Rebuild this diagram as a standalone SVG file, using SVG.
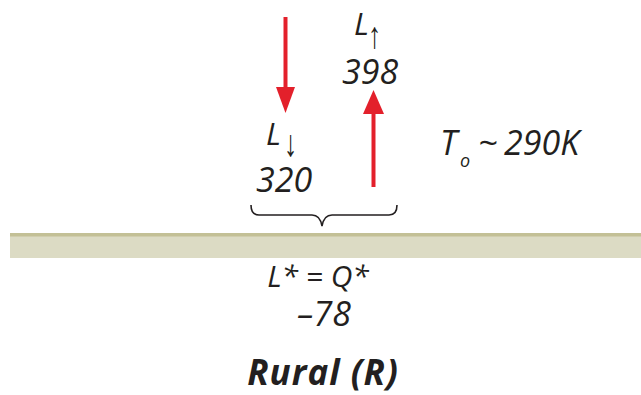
<svg xmlns="http://www.w3.org/2000/svg" width="641" height="395" viewBox="0 0 641 395">
<style>
.t{font-family:"Open Sans","Noto Sans","DejaVu Sans",sans-serif;font-style:italic;fill:#231f20;font-size:34px}
.b{font-weight:bold;font-size:35px;letter-spacing:1px}
.s{font-family:"Liberation Sans",sans-serif;font-size:22px;font-style:normal;fill:#231f20}
</style>
<rect width="641" height="395" fill="#fff"/>
<g id="ground">
<rect x="10" y="233" width="631" height="25" fill="#dcdbc4"/>
<rect x="10" y="233" width="631" height="3.5" fill="#c3c096"/>
</g>
<g id="connectors">
<line x1="285.5" y1="17" x2="285.5" y2="90" stroke="#e3202b" stroke-width="4"/>
<path d="M276,87 L295,87 L285.5,113 Z" fill="#e3202b"/>
<line x1="373.5" y1="187" x2="373.5" y2="110" stroke="#e3202b" stroke-width="4"/>
<path d="M363,114 L384,114 L373.5,90 Z" fill="#e3202b"/>
<path d="M251,205 Q251,215 259,215 L312,215 Q320,215 322,226 Q324,215 332,215 L389,215 Q397,215 397,205" fill="none" stroke="#231f20" stroke-width="1.6"/>
</g>
<g id="Ldown">
<text class="t" x="266" y="145" style="font-size:31px">L</text>
<text class="s" transform="translate(284,156) scale(1.2,1.7)">↓</text>
<text class="t" x="256" y="192">320</text>
</g>
<g id="Lup">
<text class="t" x="354" y="35" style="font-size:31px">L</text>
<text class="s" transform="translate(368,48) scale(1.2,1.7)">↑</text>
<text class="t" x="342" y="84">398</text>
</g>
<g id="temp">
<text class="t" x="460" y="167" style="font-size:18px">o</text>
<text class="t" x="440" y="155">T</text>
<text class="t" x="478" y="155">~</text>
<text class="t" x="504" y="155">290K</text>
</g>
<g id="net">
<text class="t" x="318" y="287" text-anchor="middle" style="font-size:30px">L* = Q*</text>
<text class="t" x="324" y="326" text-anchor="middle">–78</text>
</g>
<g id="title">
<text class="t b" x="323" y="385" text-anchor="middle">Rural (R)</text>
</g>
</svg>
